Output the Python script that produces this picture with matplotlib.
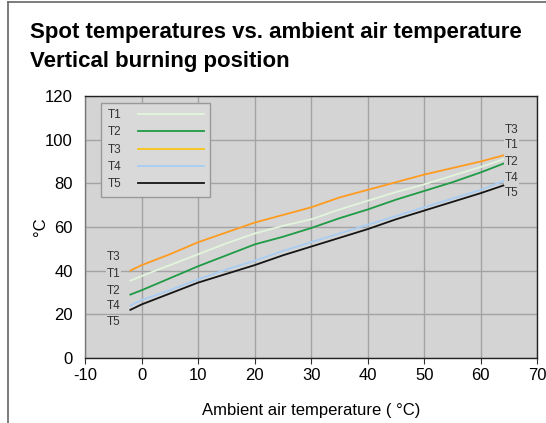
import matplotlib.pyplot as plt
from matplotlib.lines import Line2D

plt.rcParams['font.family'] = ['Liberation Sans', 'DejaVu Sans']
plt.rcParams['axes.unicode_minus'] = False

# ambient air temperature (°C)
ambient = [-2, 0, 5, 10, 15, 20, 25, 30, 35, 40, 45, 50, 55, 60, 64]
# spot temperatures (°C)
t1 = [35.4, 37.5, 42.5, 47.5, 52.5, 57, 60.5, 63.5, 68, 72, 76, 79.5, 83.5, 87.5, 91]
t2 = [29, 31, 36.5, 42, 47, 52, 55.5, 59.5, 64, 68, 72.5, 76.5, 80.5, 85, 89]
t3 = [40, 42.5, 47.5, 53, 57.5, 62, 65.5, 69, 73.5, 77, 80.5, 84, 87, 90, 92.8]
t4 = [24, 26.5, 31, 36, 40.5, 44.5, 49, 53, 57, 61, 65, 69, 73, 77, 81]
t5 = [22, 24.5, 29.5, 34.5, 38.5, 42.5, 47, 51, 55, 59, 63.5, 67.5, 71.5, 75.5, 79]
names_s = ['T1', 'T2', 'T3', 'T4', 'T5']
series = [t1, t2, t3, t4, t5]
colors = ['#e2f5dc', '#1f9a45', '#ff9b1f', '#a8cdf3', '#151515']
legend_colors = ['#e2f5dc', '#1f9a45', '#f8c414', '#a8cdf3', '#151515']
# end labels, ordered top to bottom
left_order = ['T3', 'T1', 'T2', 'T4', 'T5']
left_y = [46, 38.6, 30.8, 23.9, 16.5]
right_y = [104.4, 97.5, 89.7, 82.3, 75.4]

bg = '#d4d4d4'
fig = plt.figure(figsize=(5.46, 4.23), dpi=100)
ax = fig.add_axes([0.156, 0.154, 0.828, 0.619])
ax.set_facecolor(bg)

for s, c in zip(series, colors):
    ax.plot(ambient, s, color=c, lw=1.3, zorder=3)

ax.set_xlim(-10, 70)
ax.set_ylim(0, 120)
ax.set_xticks(range(-10, 71, 10))
ax.set_yticks(range(0, 121, 20))
ax.grid(True, color='#a3a3a3', lw=1.0, zorder=0)
ax.set_axisbelow(True)
for sp in ax.spines.values():
    sp.set_color('#222222')
    sp.set_linewidth(1.0)
ax.spines['left'].set_color('#777777')
ax.tick_params(axis='both', labelsize=12, length=4, color='#333333', pad=3)
ax.tick_params(axis='y', length=0, pad=9)

box = dict(facecolor=bg, edgecolor='none', pad=0.5)
for name, y in zip(left_order, left_y):
    ax.text(-6.2, y, name, fontsize=8.5, color='#333333', va='center', ha='left', bbox=box, zorder=4)
for name, y in zip(left_order, right_y):
    ax.text(64.2, y, name, fontsize=8.5, color='#333333', va='center', ha='left', bbox=box, zorder=4)

handles = [Line2D([0], [0], color=c, lw=1.3) for c in legend_colors]
leg = ax.legend(handles, names_s, loc='upper left', bbox_to_anchor=(0.035, 0.975),
                markerfirst=False, handlelength=5.6, fontsize=8.5, frameon=True,
                fancybox=False, borderpad=0.55, labelspacing=0.45, handletextpad=1.4,
                borderaxespad=0)
leg.get_frame().set_facecolor('#d9d9d9')
leg.get_frame().set_edgecolor('#999999')
leg.get_frame().set_alpha(1)
for t in leg.get_texts():
    t.set_color('#333333')

ax.set_xlabel('Ambient air temperature ( °C)', fontsize=12, labelpad=15)
ax.set_ylabel('°C', fontsize=12, labelpad=-2)

fig.text(0.055, 0.948, 'Spot temperatures vs. ambient air temperature\nVertical burning position',
         fontsize=16, fontweight='bold', va='top', ha='left', linespacing=1.5)

fig.add_artist(Line2D([0.015, 0.015], [0, 0.995], color='#666666', lw=1.2, transform=fig.transFigure))
fig.add_artist(Line2D([0.015, 1], [0.995, 0.995], color='#666666', lw=1.2, transform=fig.transFigure))

fig.savefig('out.png', dpi=100)
